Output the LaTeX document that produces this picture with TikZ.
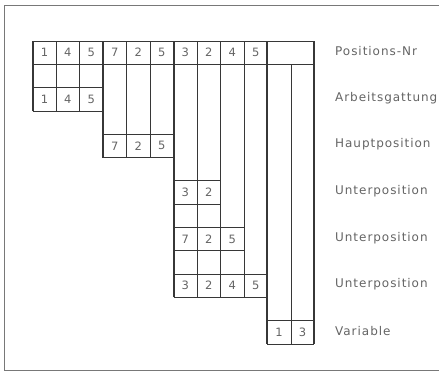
\documentclass[tikz,border=0pt]{standalone}
\usepackage{fontspec}
\setmainfont{DejaVu Sans}
\newfontfamily\plotterfont{DejaVu Sans}[LetterSpace=8]
\definecolor{penGray}{RGB}{55,55,55}
\definecolor{inkGray}{RGB}{100,100,100}
\definecolor{frameGray}{RGB}{120,120,120}

\begin{document}
\begin{tikzpicture}[x=1pt,y=-1pt,
  gridline/.style={draw=penGray,line width=0.7pt},
  blockedge/.style={draw=penGray,line width=2pt},
  digit/.style={text=inkGray,font=\fontsize{11.5}{11.5}\selectfont,inner sep=0pt},
  rowlabel/.style={anchor=west,text=inkGray,font=\plotterfont\fontsize{12}{13}\selectfont,inner sep=0pt}]
\useasboundingbox (0,0) rectangle (439,372);
% outer frame, right side runs off the page
\draw[draw=frameGray,line width=1.2pt] (439,5.5) -- (4.5,5.5) -- (4.5,370.5) -- (439,370.5);
\begin{scope}[shift={(32.7,41)},x=23.47pt,y=-23.3pt]
  % horizontal rules: row/from/to
  \foreach \r/\a/\b in {0/0/12,1/0/12,2/0/3,3/0/3,4/3/6,5/3/6,6/6/8,7/6/8,
                        8/6/9,9/6/9,10/6/10,11/6/10,12/10/12,13/10/12}
    \draw[gridline] (\a,\r) -- (\b,\r);
  % thin column rules
  \foreach \c/\a/\b in {1/0/3,2/0/3,4/0/5,5/0/5,7/0/11,8/0/11,9/0/11,11/1/13}
    \draw[gridline] (\c,\a) -- (\c,\b);
  % heavy block edges
  \foreach \c/\a/\b in {0/0/3,3/0/5,6/0/11,10/0/13,12/0/13}
    \draw[blockedge] (\c,\a) -- (\c,\b);
  % digits: row/col/value
  \foreach \r/\c/\v in {0/0/1,0/1/4,0/2/5,0/3/7,0/4/2,0/5/5,0/6/3,0/7/2,0/8/4,0/9/5,
                        2/0/1,2/1/4,2/2/5,4/3/7,4/4/2,4/5/5,6/6/3,6/7/2,
                        8/6/7,8/7/2,8/8/5,10/6/3,10/7/2,10/8/4,10/9/5,12/10/1,12/11/3}
    \node[digit] (d\r-\c) at (\c+0.5,\r+0.5) {\v};
  % row names
  \foreach \r/\t in {0/Positions-Nr,2/Arbeitsgattung,4/Hauptposition,6/Unterposition,
                     8/Unterposition,10/Unterposition,12/Variable}
    \node[rowlabel] (lbl\r) at (12.88,\r+0.45) {\t};
\end{scope}
\end{tikzpicture}
\end{document}
